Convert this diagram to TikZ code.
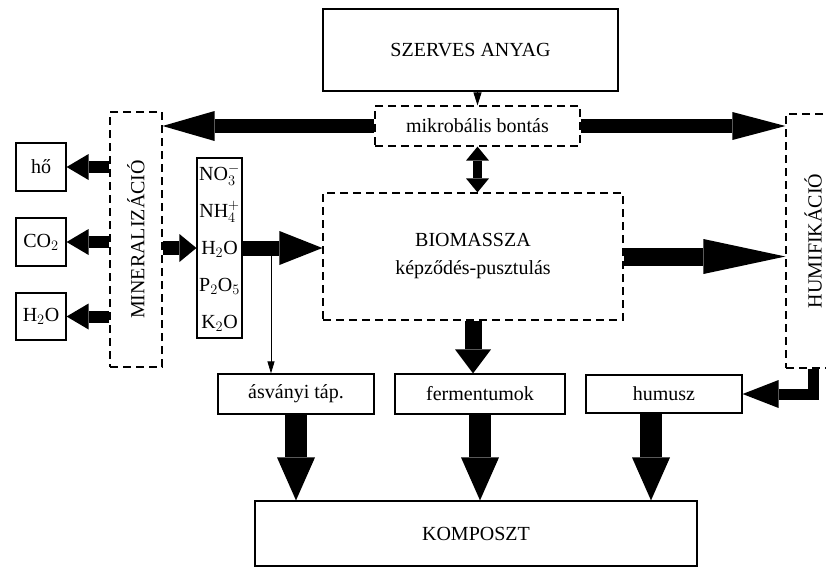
\documentclass[tikz,border=0pt]{standalone}
\usepackage{fontspec}
\setmainfont{Liberation Serif}
\usepackage{graphicx}
\usetikzlibrary{arrows.meta,calc}

\newcommand\lbl{\fontsize{20}{24}\selectfont}
\tikzset{
	box/.style={draw, line width=1.2pt, inner sep=0pt, font=\lbl, align=center},
	dbox/.style={box, dash pattern=on 8pt off 5pt},
	flow/.style n args={3}{line width=#1,
		-{Triangle[length=#2, width=#3, line width=0pt 0 0]}},
	thin flow/.style={line width=0.8pt, -{Triangle[length=12pt, width=7pt]}}
}

\begin{document}
\begin{tikzpicture}[x=1pt, y=-1pt]
\useasboundingbox (0,0) rectangle (826,568);

\node[box, minimum width=295pt, minimum height=82pt] (szerves) at (470.5,50) {SZERVES ANYAG};
\node[dbox, minimum width=205pt, minimum height=40pt] (mikrob) at (477.5,126) {mikrobális bontás};
\node[dbox, minimum width=52pt, minimum height=255pt] (miner) at (136,239.5) {\rotatebox{90}{MINERALIZÁCIÓ}};
\node[dbox, minimum width=54pt, minimum height=254pt] (humif) at (813,241) {\rotatebox{90}{HUMIFIKÁCIÓ}};

% termekek balra
\node[box, minimum width=50pt, minimum height=48pt] (ho) at (41,167) {hő};
\node[box, minimum width=50pt, minimum height=48pt] (co2) at (41,242) {CO$_2$};
\node[box, minimum width=50pt, minimum height=47pt] (hho) at (41,316.5) {H$_2$O};

\node[box, minimum width=45pt, minimum height=180pt, font=\fontsize{20}{37}\selectfont] (ions) at (219.5,248)
	{NO$_3^-$\\NH$_4^+$\\H$_2$O\\P$_2$O$_5$\\K$_2$O};
\node[dbox, minimum width=300pt, minimum height=127pt, font=\fontsize{20}{28}\selectfont] (bio) at (473,256.5)
	{BIOMASSZA\\képződés-pusztulás};

\node[box, minimum width=156pt, minimum height=40pt] (asv) at (296,394) {ásványi táp.};
\node[box, minimum width=170pt, minimum height=40pt] (ferm) at (480,394) {fermentumok};
\node[box, minimum width=156pt, minimum height=38pt] (hum) at (664,394) {humusz};
\node[box, minimum width=442pt, minimum height=65pt] (komp) at (476,533.5) {KOMPOSZT};

% nyilak
\draw[line width=0.8pt, -{Triangle[length=13pt, width=8pt]}] (szerves.south -| mikrob.north) -- (mikrob.north);
\draw[flow={14pt}{52pt}{30pt}] (mikrob.west) -- (miner.east |- mikrob.west);
\draw[flow={14pt}{53pt}{28pt}] (mikrob.east) -- (humif.west |- mikrob.east);
\draw[line width=9pt, {Triangle[length=14pt, width=23pt, line width=0pt 0 0]}-{Triangle[length=14pt, width=23pt, line width=0pt 0 0]}]
	(mikrob.south) -- (mikrob.south |- bio.north);
\foreach \b in {ho,co2,hho}
	\draw[flow={12pt}{22pt}{26pt}] (miner.west |- \b.east) -- (\b.east);
\draw[flow={14pt}{17pt}{28pt}] (miner.east |- ions.west) -- (ions.west);
\draw[flow={15pt}{43pt}{34pt}] (ions.east) -- (bio.west |- ions.east);
\coordinate (split) at (271,248);
\draw[thin flow] (split) -- (split |- asv.north);
\draw[flow={18pt}{82pt}{35pt}] (bio.east) -- (humif.west |- bio.east);
\draw[flow={17pt}{24pt}{36pt}] (bio.south) -- (bio.south |- ferm.north);
\draw[flow={11pt}{36pt}{28pt}, line join=miter] (humif.south) |- (hum.east);

\draw[flow={22pt}{43pt}{38pt}] (asv.south) -- (asv.south |- komp.north);
\draw[flow={22pt}{43pt}{38pt}] (ferm.south) -- (ferm.south |- komp.north);
\draw[flow={22pt}{43pt}{38pt}] ([xshift=-13pt]hum.south) -- ([xshift=-13pt]hum.south |- komp.north);
\end{tikzpicture}
\end{document}
